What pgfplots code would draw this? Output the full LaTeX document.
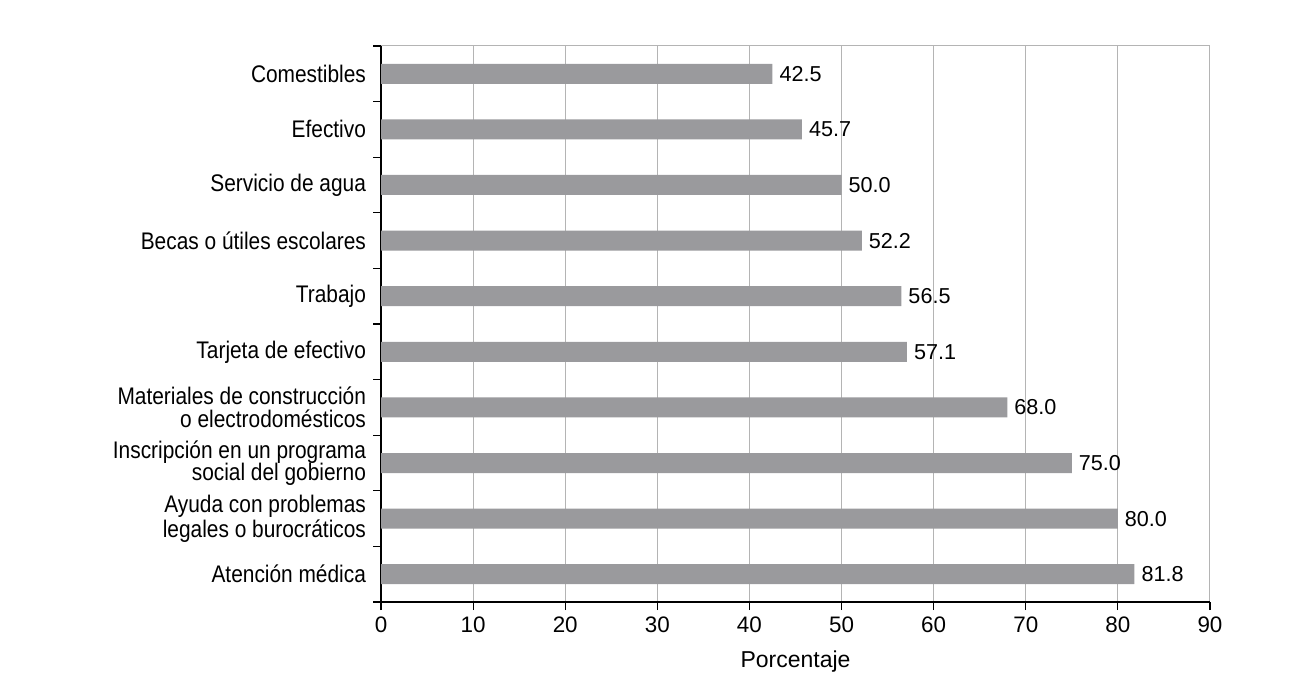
\documentclass[border=0pt]{standalone}
\usepackage{fontspec}
\setmainfont{Liberation Sans}
\newfontfamily\condfont{Liberation Sans}[FakeStretch=0.87]
\usepackage{pgfplots}
\pgfplotsset{compat=1.18}

\definecolor{barc}{HTML}{9A9A9D}
\definecolor{gridc}{HTML}{B4B4B4}
\newcommand{\catfont}{\condfont\fontsize{12}{11.2}\selectfont}
\newcommand{\numfont}{\fontsize{11.2}{12}\selectfont}

\begin{document}
\begin{tikzpicture}
\useasboundingbox (0,0) rectangle (646.5pt,347.5pt);
\begin{axis}[
    at={(190.5pt,46.5pt)}, anchor=south west,
    scale only axis, width=414.5pt, height=278pt,
    xbar, bar width=10pt,
    xmin=0, xmax=90,
    ymin=-0.5, ymax=9.5, y dir=reverse,
    axis lines=left,
    axis line style={-, black, line width=0.6pt},
    tick align=outside,
    major tick length=4pt,
    tick style={black, line width=0.6pt},
    xtick={0,10,...,90},
    xmajorgrids=true,
    major grid style={gridc, line width=0.5pt},
    ytick={-0.5,0.5,...,9.5},
    yticklabels={Comestibles, Efectivo, Servicio de agua, Becas o útiles escolares,
        Trabajo, Tarjeta de efectivo,
        {Materiales de construcción\\o electrodomésticos},
        {Inscripción en un programa\\social del gobierno},
        {Ayuda con problemas\\legales o burocráticos},
        Atención médica, {}},
    yticklabel style={yshift=-13.9pt, align=right, font=\catfont},
    xticklabel style={font=\numfont},
    extra y ticks={-0.5},
    extra y tick labels={},
    extra y tick style={grid=major, major grid style={gridc, line width=0.5pt}, tick style={draw=none}},
    /pgf/number format/assume math mode=true,
    xlabel={Porcentaje},
    xlabel style={at={(axis description cs:0.5,0)}, anchor=base, yshift=-32.5pt,
        font=\fontsize{11.5}{12}\selectfont},
    point meta=x,
    nodes near coords={\pgfmathprintnumber[fixed,fixed zerofill,precision=1]{\pgfplotspointmeta}},
    nodes near coords style={anchor=west, font=\fontsize{10.8}{12}\selectfont, black},
]
\addplot[draw=none, fill=barc] coordinates {
    (42.5,0) (45.7,1) (50.0,2) (52.2,3) (56.5,4)
    (57.1,5) (68.0,6) (75.0,7) (80.0,8) (81.8,9)
};
\end{axis}
\end{tikzpicture}
\end{document}
